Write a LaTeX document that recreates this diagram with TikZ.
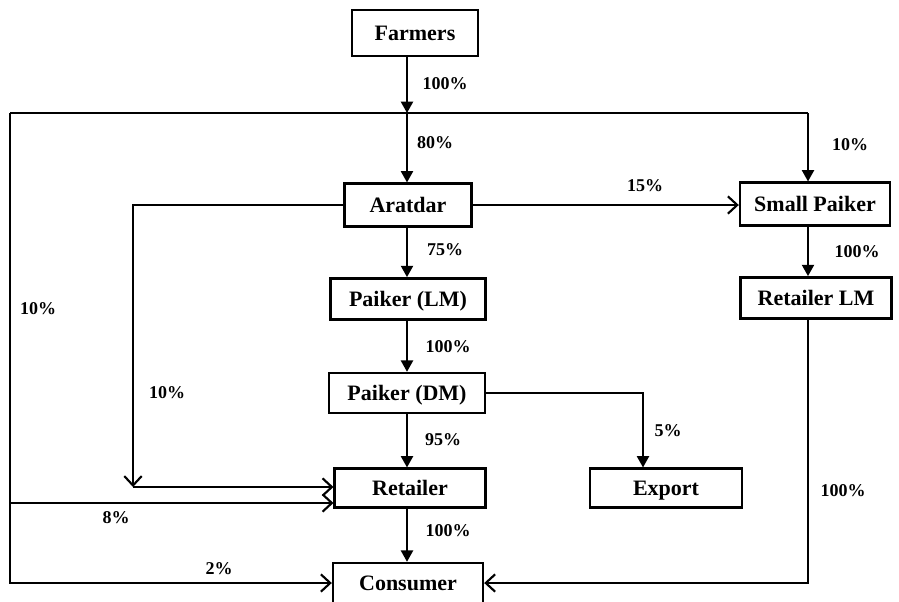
\documentclass[tikz,border=0pt]{standalone}
\usepackage{fontspec}
\setmainfont{Liberation Serif}
\usetikzlibrary{arrows.meta}

\begin{document}
\begin{tikzpicture}[x=0.75pt,y=0.75pt]
\tikzstyle{box}=[draw, line width=1.8pt, minimum height=31pt, inner sep=0pt, text height=11pt, text depth=0pt, font=\fontsize{16.5}{18}\selectfont\bfseries]
\tikzstyle{pct}=[inner sep=0pt, font=\fontsize{13.5}{15}\selectfont\bfseries]
\tikzstyle{flow}=[line width=1.6pt, -{Triangle[length=8.5pt,width=9pt]}]
\tikzstyle{side}=[line width=1.6pt, -{Straight Barb[length=7pt,width=13pt,line width=1.6pt]}]
\useasboundingbox (0,0) rectangle (899,-601);
\node [box, minimum width=94.5pt, minimum height=34.5pt] (farmers) at (415,-33) {Farmers};
\node [box, minimum width=95pt, minimum height=32pt] (aratdar) at (408,-205) {Aratdar};
\node [box, minimum width=112.5pt, minimum height=32pt] (smallpaiker) at (815,-204) {Small Paiker};
\node [box, minimum width=116pt] (paikerlm) at (408,-299) {Paiker (LM)};
\node [box, minimum width=113pt] (retailerlm) at (816,-298) {Retailer LM};
\node [box, minimum width=117pt, minimum height=30pt] (paikerdm) at (407,-393) {Paiker (DM)};
\node [box, minimum width=113pt, minimum height=29pt] (retailer) at (410,-488) {Retailer};
\node [box, minimum width=114pt, minimum height=29pt] (export) at (666,-488) {Export};
\node [box, minimum width=112.5pt, minimum height=30pt] (consumer) at (408,-583) {Consumer};
% junction points of the flow lines
\coordinate (split) at (407,-113);
\coordinate (west) at (10,-113);
\coordinate (east) at (808,-113);
\coordinate (low) at (10,-503);
\coordinate (bend) at (133,-487);
\coordinate (exp) at (643,-393);
% farmers split
\draw [flow] (farmers.south -| split) -- (split);
\draw [line width=1.6pt] (west) -- (east);
\draw [flow] (split) -- (aratdar.north -| split);
\draw [flow] (east) -- (smallpaiker.north -| east);
\draw [side] (west) |- (consumer.west);
\draw [side] (low) -- (low -| retailer.west);
% aratdar
\draw [side] (aratdar.east) -- (aratdar.east -| smallpaiker.west);
\draw [side] (aratdar.west) -| (bend);
\draw [side] (bend) -- (bend -| retailer.west);
\draw [flow] (aratdar.south -| split) -- (paikerlm.north -| split);
% paikers
\draw [flow] (paikerlm.south -| split) -- (paikerdm.north -| split);
\draw [flow] (paikerdm.south -| split) -- (retailer.north -| split);
\draw [flow] (paikerdm.east) -| (exp |- export.north);
\draw [flow] (retailer.south -| split) -- (consumer.north -| split);
% right branch
\draw [flow] (smallpaiker.south -| east) -- (retailerlm.north -| east);
\draw [side] (retailerlm.south -| east) |- (consumer.east);
% shares
\node [pct] (p1) at (445,-84) {100\%};
\node [pct] (p2) at (435,-143) {80\%};
\node [pct] (p3) at (850,-145) {10\%};
\node [pct] (p4) at (645,-186) {15\%};
\node [pct] (p5) at (445,-250) {75\%};
\node [pct] (p6) at (857,-252) {100\%};
\node [pct] (p7) at (38,-309) {10\%};
\node [pct] (p8) at (448,-347) {100\%};
\node [pct] (p9) at (167,-393) {10\%};
\node [pct] (p10) at (443,-440) {95\%};
\node [pct] (p11) at (668,-431) {5\%};
\node [pct] (p12) at (843,-491) {100\%};
\node [pct] (p13) at (116,-518) {8\%};
\node [pct] (p14) at (448,-531) {100\%};
\node [pct] (p15) at (219,-569) {2\%};
\end{tikzpicture}
\end{document}
